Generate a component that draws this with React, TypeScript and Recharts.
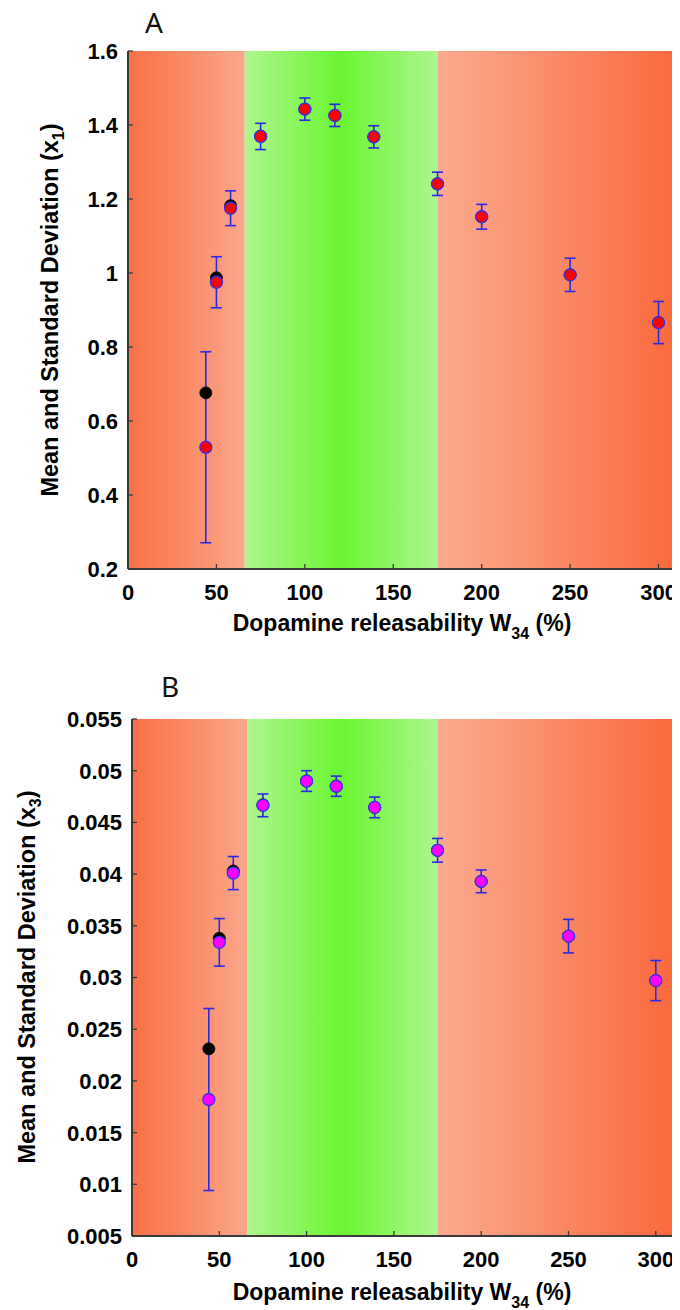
import React from 'react';
import { ScatterChart, Scatter, XAxis, YAxis, ReferenceArea, ErrorBar } from 'recharts';

// ---- data ----
const W34 = [44, 50, 58, 75, 100, 117, 139, 175, 200, 250, 300];
const X_TICKS = [0, 50, 100, 150, 200, 250, 300];
const BAND_EDGES = [0, 66, 175, 311];

const A_MEAN = [0.529, 0.975, 1.175, 1.369, 1.443, 1.426, 1.368, 1.241, 1.152, 0.995, 0.866];
const A_SD = [0.258, 0.069, 0.047, 0.0355, 0.03, 0.03, 0.03, 0.0315, 0.0335, 0.045, 0.057];
const A_DET = [0.676, 0.987, 1.182, 1.37, 1.443, 1.426, 1.368, 1.241, 1.152, 0.995, 0.866];
const A_TICKS = [0.2, 0.4, 0.6, 0.8, 1.0, 1.2, 1.4, 1.6];
const A_TICK_LABELS = ['0.2', '0.4', '0.6', '0.8', '1', '1.2', '1.4', '1.6'];

const B_MEAN = [0.0182, 0.0334, 0.0401, 0.04665, 0.049, 0.0485, 0.04645, 0.0423, 0.0393, 0.034, 0.0297];
const B_SD = [0.0088, 0.0023, 0.0016, 0.0011, 0.001, 0.00098, 0.001, 0.00115, 0.0011, 0.00162, 0.00194];
const B_DET = [0.0231, 0.0338, 0.0403, 0.0467, 0.049, 0.0485, 0.04645, 0.0423, 0.0393, 0.034, 0.0297];
const B_TICKS = [0.005, 0.01, 0.015, 0.02, 0.025, 0.03, 0.035, 0.04, 0.045, 0.05, 0.055];
const B_TICK_LABELS = ['0.005', '0.01', '0.015', '0.02', '0.025', '0.03', '0.035', '0.04', '0.045', '0.05', '0.055'];

const FONT = '"Liberation Sans", Arial, sans-serif';
const AXIS_COLOR = '#3a3a3a';
const BAR_COLOR = '#2a2ae6';

function makeYTick(ticks: number[], labels: string[]) {
  return (props: any) => {
    const { x, y, payload } = props;
    const idx = ticks.findIndex((t) => Math.abs(t - payload.value) < 1e-9);
    const label = idx >= 0 ? labels[idx] : String(payload.value);
    const ax = x + 10;
    return (
      <g>
        <line x1={ax} x2={ax + 5} y1={y} y2={y} stroke={AXIS_COLOR} strokeWidth={1.3} />
        <text x={x} y={y} dy="0.36em" textAnchor="end" fontFamily={FONT} fontWeight="bold" fontSize={22} fill="#000">
          {label}
        </text>
      </g>
    );
  };
}

const XTick = (props: any) => {
  const { x, y, payload } = props;
  const ay = y - 15;
  return (
    <g>
      <line x1={x} x2={x} y1={ay} y2={ay - 5} stroke={AXIS_COLOR} strokeWidth={1.3} />
      <text x={x} y={y} dy="0.71em" textAnchor="middle" fontFamily={FONT} fontWeight="bold" fontSize={22} fill="#000">
        {payload.value}
      </text>
    </g>
  );
};

function Panel(props: {
  id: string;
  mean: number[];
  sd: number[];
  det: number[];
  ticks: number[];
  labels: string[];
  domain: [number, number];
  fill: string;
  height: number;
  margin: { top: number; right: number; bottom: number; left: number };
}) {
  const { id, mean, sd, det, ticks, labels, domain, fill, height, margin } = props;
  const meanData = W34.map((x, i) => ({ x, y: mean[i], sd: sd[i] }));
  const detData = W34.map((x, i) => ({ x, y: det[i] }));
  const YTick = makeYTick(ticks, labels);
  return (
    <ScatterChart width={680} height={height} margin={margin}>
      <defs>
        <linearGradient id={`${id}-left`} x1="0" y1="0" x2="1" y2="0">
          <stop offset="0%" stopColor="#f97144" />
          <stop offset="100%" stopColor="#fba68b" />
        </linearGradient>
        <linearGradient id={`${id}-mid`} x1="0" y1="0" x2="1" y2="0">
          <stop offset="0%" stopColor="#aef68e" />
          <stop offset="50%" stopColor="#6af532" />
          <stop offset="100%" stopColor="#aef68e" />
        </linearGradient>
        <linearGradient id={`${id}-right`} x1="0" y1="0" x2="1" y2="0">
          <stop offset="0%" stopColor="#fbaa90" />
          <stop offset="100%" stopColor="#f9693b" />
        </linearGradient>
      </defs>
      <XAxis
        type="number"
        dataKey="x"
        domain={[BAND_EDGES[0], BAND_EDGES[3]]}
        ticks={X_TICKS}
        allowDataOverflow
        height={30}
        tickSize={0}
        tickMargin={15}
        tick={XTick}
        axisLine={{ stroke: AXIS_COLOR, strokeWidth: 2 }}
        tickLine={false}
      />
      <YAxis
        type="number"
        dataKey="y"
        domain={domain}
        ticks={ticks}
        allowDataOverflow
        width={120}
        tickSize={0}
        tickMargin={10}
        tick={YTick}
        axisLine={{ stroke: AXIS_COLOR, strokeWidth: 2 }}
        tickLine={false}
      />
      <ReferenceArea x1={BAND_EDGES[0]} x2={BAND_EDGES[1]} y1={domain[0]} y2={domain[1]} fill={`url(#${id}-left)`} fillOpacity={1} stroke="none" ifOverflow="hidden" />
      <ReferenceArea x1={BAND_EDGES[1]} x2={BAND_EDGES[2]} y1={domain[0]} y2={domain[1]} fill={`url(#${id}-mid)`} fillOpacity={1} stroke="none" ifOverflow="hidden" />
      <ReferenceArea x1={BAND_EDGES[2]} x2={BAND_EDGES[3]} y1={domain[0]} y2={domain[1]} fill={`url(#${id}-right)`} fillOpacity={1} stroke="none" ifOverflow="hidden" />
      <Scatter
        data={detData}
        isAnimationActive={false}
        shape={(p: any) => <circle cx={p.cx} cy={p.cy} r={6} fill="#000" stroke="#111" strokeWidth={1} />}
      />
      <Scatter
        data={meanData}
        isAnimationActive={false}
        shape={(p: any) => <circle cx={p.cx} cy={p.cy} r={6} fill={fill} stroke="#3333ee" strokeWidth={1.3} />}
      >
        <ErrorBar dataKey="sd" direction="y" width={5.5} stroke={BAR_COLOR} strokeWidth={1.6} isAnimationActive={false} />
      </Scatter>
    </ScatterChart>
  );
}

export default function App() {
  return (
    <div style={{ position: 'relative', width: 680, height: 1310, marginLeft: -8, marginTop: -8, background: '#fff' }}>
      <div style={{ position: 'absolute', left: 0, top: 0 }}>
        <Panel
          id="pa"
          mean={A_MEAN}
          sd={A_SD}
          det={A_DET}
          ticks={A_TICKS}
          labels={A_TICK_LABELS}
          domain={[0.2, 1.6]}
          fill="#ff0000"
          height={650}
          margin={{ top: 51, right: 2, bottom: 51, left: 8 }}
        />
      </div>
      <div style={{ position: 'absolute', left: 0, top: 650 }}>
        <Panel
          id="pb"
          mean={B_MEAN}
          sd={B_SD}
          det={B_DET}
          ticks={B_TICKS}
          labels={B_TICK_LABELS}
          domain={[0.005, 0.055]}
          fill="#ff00ff"
          height={660}
          margin={{ top: 69, right: 5, bottom: 44, left: 12 }}
        />
      </div>
      <svg width={680} height={1310} style={{ position: 'absolute', left: 0, top: 0, pointerEvents: 'none' }}>
        <text x={145} y={33} fontFamily='"Noto Sans", sans-serif' fontSize={28} fill="#111">A</text>
        <text x={161} y={697} fontFamily='"Noto Sans", sans-serif' fontSize={28} fill="#111">B</text>
        <text transform="translate(58,310) rotate(-90)" textAnchor="middle" fontFamily={FONT} fontWeight="bold" fontSize={23.5} fill="#000">
          Mean and Standard Deviation (x<tspan dy={6} fontSize={16}>1</tspan><tspan dy={-6}>)</tspan>
        </text>
        <text transform="translate(35,977) rotate(-90)" textAnchor="middle" fontFamily={FONT} fontWeight="bold" fontSize={23.5} fill="#000">
          Mean and Standard Deviation (x<tspan dy={6} fontSize={16}>3</tspan><tspan dy={-6}>)</tspan>
        </text>
        <text x={402} y={631} textAnchor="middle" fontFamily={FONT} fontWeight="bold" fontSize={23} fill="#000">
          Dopamine releasability W<tspan dy={8} fontSize={16}>34</tspan><tspan dy={-8}> (%)</tspan>
        </text>
        <text x={402} y={1300} textAnchor="middle" fontFamily={FONT} fontWeight="bold" fontSize={23} fill="#000">
          Dopamine releasability W<tspan dy={8} fontSize={16}>34</tspan><tspan dy={-8}> (%)</tspan>
        </text>
      </svg>
    </div>
  );
}
